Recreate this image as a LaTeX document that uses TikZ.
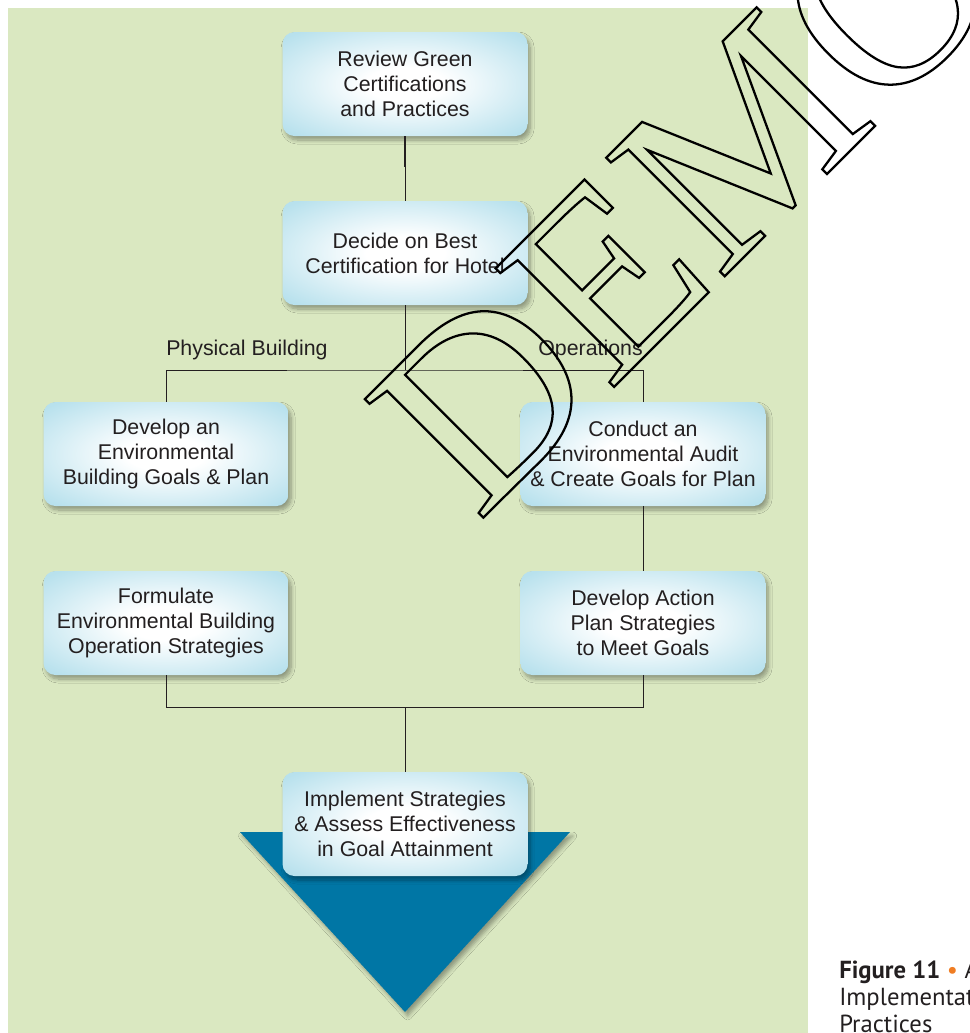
\documentclass[tikz,border=0pt]{standalone}
\usepackage{fontspec}
\setmainfont{Liberation Sans}
\newfontfamily\capfont{PT Sans}
\newfontfamily\stampfont{Liberation Serif}
\usepackage{tikz}
\usetikzlibrary{calc,shadows.blur}

\definecolor{bggreen}{RGB}{218,232,193}
\definecolor{boxblue}{RGB}{184,225,237}
\definecolor{tridark}{RGB}{0,118,165}
\definecolor{inktext}{RGB}{35,31,32}
\definecolor{bulletorange}{RGB}{240,125,35}

\pgfdeclareradialshading{boxglow}{\pgfpoint{0bp}{0bp}}{color(0bp)=(white); color(8bp)=(white); color(33bp)=(boxblue); color(50bp)=(boxblue)}

\tikzset{
  stage/.style={rounded corners=9pt, minimum width=183.75pt, minimum height=78pt, shade, shading=boxglow,
    align=center, text=inktext, font=\fontsize{16}{18.75}\selectfont, inner sep=0pt,
    blur shadow={shadow xshift=2pt, shadow yshift=-3pt, shadow opacity=35, shadow blur steps=8, shadow blur radius=3pt}},
  link/.style={draw=inktext, line width=0.6pt},
  branch/.style={text=inktext, font=\fontsize{16}{18.75}\selectfont, inner sep=0pt},
}

\begin{document}
\begin{tikzpicture}[x=0.75pt,y=0.75pt,yscale=-1,xscale=1]
  \useasboundingbox (0,0) rectangle (970,1033);
  % green panel
  \fill[bggreen] (8,8) rectangle (808,1033);

  % big arrow head
  \fill[tridark, blur shadow={shadow xshift=2pt, shadow yshift=-3pt, shadow opacity=35, shadow blur radius=3pt}] (240,832) -- (570,832) -- (405,1012) -- cycle;

  % steps
  \node[stage] (review) at (405,84) {Review Green\\Certifications\\and Practices};
  \node[stage] (decide) at (405,253) {Decide on Best\\Certification for Hotel};
  \node[stage] (envgoals) at (166,454) {Develop an\\Environmental\\Building Goals \& Plan};
  \node[stage] (audit) at (643,454) {Conduct an\\Environmental Audit\\\& Create Goals for Plan};
  \node[stage] (strategies) at (166,623) {Formulate\\Environmental Building\\Operation Strategies};
  \node[stage] (action) at (643,623) {Develop Action\\Plan Strategies\\to Meet Goals};
  \node[stage] (implement) at (405,824) {Implement Strategies\\\& Assess Effectiveness\\in Goal Attainment};

  % branch labels
  \node[branch, anchor=base west] (phys) at (166,355) {Physical Building};
  \node[branch, anchor=base east] (ops) at (643,355) {Operations};

  % connectors
  \coordinate (split) at (405,370);
  \coordinate (merge) at (405,707);
  \coordinate (stub) at (405,167);
  \draw[link] (review) -- (decide);
  \draw[inktext, line width=2.2pt] (review.south) -- (stub);
  \draw[link] (decide) -- (split);
  \draw[link] (envgoals.north) |- (split) -| (audit.north);
  \draw[link] (audit) -- (action);
  \draw[link] (strategies.south) |- (merge) -| (action.south);
  \draw[link] (merge) -- (implement);

  % caption
  \node[anchor=north west, inner sep=0pt, align=left, text=inktext, font=\capfont\fontsize{18.5}{20}\selectfont] (caption) at (839,961) {\textbf{Figure 11} {\color{bulletorange}\textbullet} A\\Implementati\\Practices};

  % watermark
  \node[anchor=base west, rotate=45, inner sep=0pt, font=\stampfont\fontsize{192}{192}\selectfont] (stamp) at (478,523) {\special{pdf:literal direct 1 Tr 1.7 w 0 G}DEMO\special{pdf:literal direct 0 Tr}};
\end{tikzpicture}
\end{document}
